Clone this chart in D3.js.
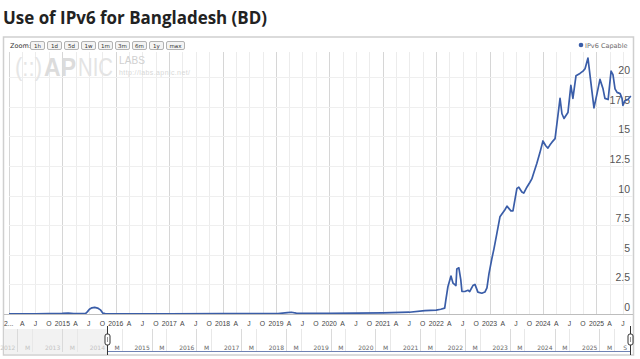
<!DOCTYPE html>
<html>
<head>
<meta charset="utf-8">
<script src="https://cdn.jsdelivr.net/npm/d3@7"></script>
<style>
  body { margin: 0; background: #fff; }
  svg { display: block; font-family: "DejaVu Sans", Verdana, sans-serif; }
</style>
</head>
<body>
<div id="chart"></div>
<script>
(function() {
    'use strict';

    // data (IPv6 capable, %)
    var dates = [
        '2014-01-01','2014-04-01','2014-07-01','2014-10-01','2015-01-01','2015-02-10','2015-03-20',
        '2015-06-08','2015-06-22','2015-07-05','2015-07-22','2015-08-10','2015-08-30','2015-09-18','2015-10-04','2015-10-20',
        '2016-06-01','2017-01-01','2018-01-01','2019-01-15','2019-03-20','2019-04-15','2019-05-20','2019-08-01',
        '2020-01-01','2020-07-01','2021-01-01','2021-07-01','2021-10-15','2022-01-01','2022-02-01','2022-02-28',
        '2022-03-08','2022-03-22','2022-04-12','2022-04-26','2022-05-16','2022-05-22','2022-06-05','2022-06-18',
        '2022-06-26','2022-07-16','2022-08-06','2022-08-18','2022-09-09','2022-09-23','2022-10-13','2022-11-09',
        '2022-11-30','2022-12-14','2022-12-28','2023-01-17','2023-01-31','2023-02-20','2023-03-13','2023-04-16',
        '2023-04-30','2023-05-27','2023-06-10','2023-07-07','2023-07-20','2023-08-10','2023-08-23','2023-09-13',
        '2023-10-03','2023-10-17','2023-10-30','2023-11-20','2023-12-11','2024-01-01','2024-01-20','2024-02-04',
        '2024-02-20','2024-03-03','2024-03-24','2024-04-27','2024-05-10','2024-05-24','2024-06-20','2024-07-10',
        '2024-07-24','2024-08-14','2024-09-10','2024-10-01','2024-10-15','2024-11-04','2024-12-01','2024-12-15',
        '2025-01-05','2025-01-25','2025-02-15','2025-02-28','2025-03-22','2025-04-11','2025-04-24','2025-05-08',
        '2025-05-22','2025-06-12','2025-06-25','2025-07-01','2025-07-15','2025-08-04','2025-08-24'
    ];
    var ipv6 = [
        0.02, 0.02, 0.02, 0.03, 0.05, 0.08, 0.03,
        0.03, 0.2, 0.4, 0.52, 0.56, 0.5, 0.35, 0.08, 0.03,
        0.02, 0.02, 0.03, 0.03, 0.12, 0.15, 0.08, 0.05,
        0.06, 0.08, 0.1, 0.15, 0.28, 0.33, 0.4, 0.5,
        1.2, 2.3, 3.2, 2.6, 2.4, 3.8, 3.9, 2.9,
        1.9, 1.9, 2.0, 1.9, 2.4, 2.5, 1.85, 1.75,
        1.85, 2.2, 3.4, 4.7, 5.5, 6.8, 8.2, 8.8,
        9.1, 8.7, 8.7, 10.6, 10.7, 10.3, 10.2, 10.7,
        11.1, 11.4, 11.9, 12.7, 13.6, 14.6, 14.2, 14.0,
        14.3, 14.5, 14.8, 18.2, 16.9, 16.5, 17.0, 19.3,
        18.2, 20.1, 20.3, 20.5, 20.7, 21.6, 18.8, 17.4,
        18.6, 19.8, 19.0, 18.2, 18.1, 20.5, 20.2, 19.0,
        18.7, 18.6, 18.2, 17.6, 18.0, 18.1, 18.4
    ];
    var yTicks = [0, 2.5, 5, 7.5, 10, 12.5, 15, 17.5, 20];
    var zoomButtons = ['1h', '1d', '5d', '1w', '1m', '3m', '6m', '1y', 'max'];
    var monthLetters = ['J','F','M','A','M','J','J','A','S','O','N','D'];

    var W = 640, H = 359;
    var left = 9, right = 633, top = 52, bottom = 314;
    var parse = d3.timeParse('%Y-%m-%d');
    var series = dates.map(function(d, i) { return { t: parse(d), v: ipv6[i] }; });

    var svg = d3.select('#chart').append('svg').attr('width', W).attr('height', H);

    // title
    svg.append('text')
        .attr('x', 3).attr('y', 24)
        .attr('font-family', '"Open Sans", sans-serif')
        .attr('font-weight', 700).attr('font-size', 18.5)
        .attr('fill', '#222')
        .attr('textLength', 264).attr('lengthAdjust', 'spacingAndGlyphs')
        .text('Use of IPv6 for Bangladesh (BD)');

    // frame
    svg.append('rect')
        .attr('x', 3.5).attr('y', 37).attr('width', 630).attr('height', 318)
        .attr('fill', '#fff').attr('stroke', '#cfcfcf').attr('stroke-width', 1.5);

    var x = d3.scaleTime()
        .domain([parse('2014-01-01'), parse('2025-09-08')])
        .range([left, right]);
    var y = d3.scaleLinear().domain([0, 20]).range([bottom, 77]);

    // grid
    var grid = svg.append('g');
    var quarters = d3.timeMonth.every(3).range(x.domain()[0], x.domain()[1]);
    grid.selectAll('line.v').data(quarters).enter().append('line')
        .attr('x1', function(d) { return Math.round(x(d)) + 0.5; })
        .attr('x2', function(d) { return Math.round(x(d)) + 0.5; })
        .attr('y1', top).attr('y2', bottom)
        .attr('stroke', function(d) { return d.getMonth() === 0 ? '#d6d6d6' : '#ececec'; });
    grid.selectAll('line.h').data(yTicks).enter().append('line')
        .attr('x1', left).attr('x2', right)
        .attr('y1', function(d) { return Math.round(y(d)) + 0.5; })
        .attr('y2', function(d) { return Math.round(y(d)) + 0.5; })
        .attr('stroke', '#efefef');
    svg.append('line')
        .attr('x1', 4).attr('x2', right).attr('y1', bottom + 0.5).attr('y2', bottom + 0.5)
        .attr('stroke', '#bdbdbd');

    // watermark, three pieces side by side, stretched a little in height
    var wmFont = '"Liberation Sans", Arial, sans-serif';
    [
        { s: '(::)', x: 15, w: 27, fill: '#e6e6e6', weight: 400 },
        { s: 'AP', x: 44, w: 32, fill: '#dcdcdc', weight: 700 },
        { s: 'NIC', x: 78, w: 35, fill: '#e4e4e4', weight: 400 }
    ].forEach(function(p) {
        svg.append('text')
            .attr('transform', 'translate(' + p.x + ',76) scale(1,1.2)')
            .attr('font-family', wmFont).attr('font-size', 21).attr('font-weight', p.weight)
            .attr('fill', p.fill)
            .attr('textLength', p.w).attr('lengthAdjust', 'spacingAndGlyphs')
            .text(p.s);
    });
    svg.append('text').attr('x', 119).attr('y', 64)
        .attr('font-family', wmFont).attr('font-size', 10)
        .attr('fill', '#d0d0d0').attr('textLength', 26).text('LABS');
    svg.append('text').attr('x', 119).attr('y', 75)
        .attr('font-family', wmFont).attr('font-size', 7)
        .attr('fill', '#d8d8d8').attr('textLength', 71).text('http://labs.apnic.net/');

    // zoom bar
    svg.append('text').attr('x', 10).attr('y', 48).attr('font-size', 6.5).attr('fill', '#333').text('Zoom:');
    var bx = 30;
    zoomButtons.forEach(function(b) {
        var w = b.length * 4 + 6;
        svg.append('rect').attr('x', bx + 0.5).attr('y', 41.5).attr('width', w).attr('height', 8)
            .attr('rx', 1.5).attr('fill', '#f4f4f4').attr('stroke', '#a0a0a0').attr('stroke-width', 0.8);
        svg.append('text').attr('x', bx + 0.5 + w / 2).attr('y', 48).attr('text-anchor', 'middle')
            .attr('font-size', 5.5).attr('fill', '#333').text(b);
        bx += w + 3;
    });

    // legend
    svg.append('circle').attr('cx', 581).attr('cy', 45).attr('r', 2.3).attr('fill', '#3a5da8');
    svg.append('text').attr('x', 585).attr('y', 47.5).attr('font-size', 6.5).attr('fill', '#6a6a6a')
        .text('IPv6 Capable');

    // y labels
    svg.selectAll('text.ylab').data(yTicks).enter().append('text')
        .attr('x', 630).attr('y', function(d) { return y(d) - 3; })
        .attr('text-anchor', 'end')
        .attr('font-family', '"Liberation Sans", Arial, sans-serif')
        .attr('font-size', 10.5).attr('fill', '#555')
        .text(function(d) { return d; });

    // x labels
    svg.selectAll('text.xlab').data(quarters).enter().append('text')
        .attr('x', function(d, i) { return i === 0 ? 4 : x(d); })
        .attr('y', 326)
        .attr('text-anchor', function(d, i) { return i === 0 ? 'start' : 'middle'; })
        .attr('font-family', '"Liberation Sans", Arial, sans-serif')
        .attr('font-size', 6.8).attr('fill', '#444')
        .text(function(d, i) {
            if (i === 0) return '2...';
            return d.getMonth() === 0 ? d.getFullYear() : monthLetters[d.getMonth()];
        });

    // line
    svg.append('clipPath').attr('id', 'plotclip').append('rect')
        .attr('x', left).attr('y', top - 5).attr('width', right - left).attr('height', bottom - top + 5);
    var line = d3.line()
        .x(function(d) { return x(d.t); })
        .y(function(d) { return y(d.v); });
    svg.append('path').datum(series)
        .attr('clip-path', 'url(#plotclip)')
        .attr('d', line)
        .attr('fill', 'none').attr('stroke', '#3a5da8').attr('stroke-width', 1.7)
        .attr('stroke-linejoin', 'round');

    // navigator
    var nx = d3.scaleTime()
        .domain([parse('2014-01-01'), parse('2025-09-08')])
        .range([107, 630]);
    var navTop = 329, navBottom = 352;
    var navStart = nx.invert(4);
    svg.append('rect').attr('x', 4).attr('y', navTop).attr('width', 103).attr('height', navBottom - navTop + 2)
        .attr('fill', '#f2f2f2');
    var navYears = d3.timeYear.range(navStart, nx.domain()[1]);
    var navMays = d3.timeMonth.range(navStart, nx.domain()[1]).filter(function(d) { return d.getMonth() === 4; });
    svg.selectAll('line.nv').data(navYears.concat(navMays)).enter().append('line')
        .attr('x1', function(d) { return Math.round(nx(d)) + 0.5; })
        .attr('x2', function(d) { return Math.round(nx(d)) + 0.5; })
        .attr('y1', navTop).attr('y2', navBottom)
        .attr('stroke', function(d) { return d.getMonth() === 0 ? '#dadada' : '#e8e8e8'; });
    var navLabels = navYears.map(function(d) { return { t: d, s: String(d.getFullYear()) }; })
        .concat(navMays.map(function(d) { return { t: d, s: 'M' }; }))
        .concat([{ t: parse('2025-09-01'), s: 'S' }]);
    svg.selectAll('text.nl').data(navLabels).enter().append('text')
        .attr('x', function(d) { return nx(d.t) - 2; })
        .attr('y', 350)
        .attr('text-anchor', 'end')
        .attr('font-size', 6)
        .attr('fill', function(d) { return nx(d.t) < 108 ? '#c4c4c4' : '#666'; })
        .text(function(d) { return d.s; });
    svg.append('line').attr('x1', 107).attr('x2', 630).attr('y1', 351.5).attr('y2', 351.5)
        .attr('stroke', '#6f82b4').attr('stroke-width', 1.2);

    [107, 630].forEach(function(hx) {
        svg.append('line').attr('x1', hx + 0.5).attr('x2', hx + 0.5).attr('y1', 326).attr('y2', 355)
            .attr('stroke', '#333').attr('stroke-width', 1);
        svg.append('rect').attr('x', hx - 2).attr('y', 334).attr('width', 5).attr('height', 11)
            .attr('rx', 2).attr('fill', '#fff').attr('stroke', '#333').attr('stroke-width', 1);
        svg.append('line').attr('x1', hx + 0.5).attr('x2', hx + 0.5).attr('y1', 337).attr('y2', 342)
            .attr('stroke', '#777').attr('stroke-width', 0.8);
    });
})();
</script>
</body>
</html>
